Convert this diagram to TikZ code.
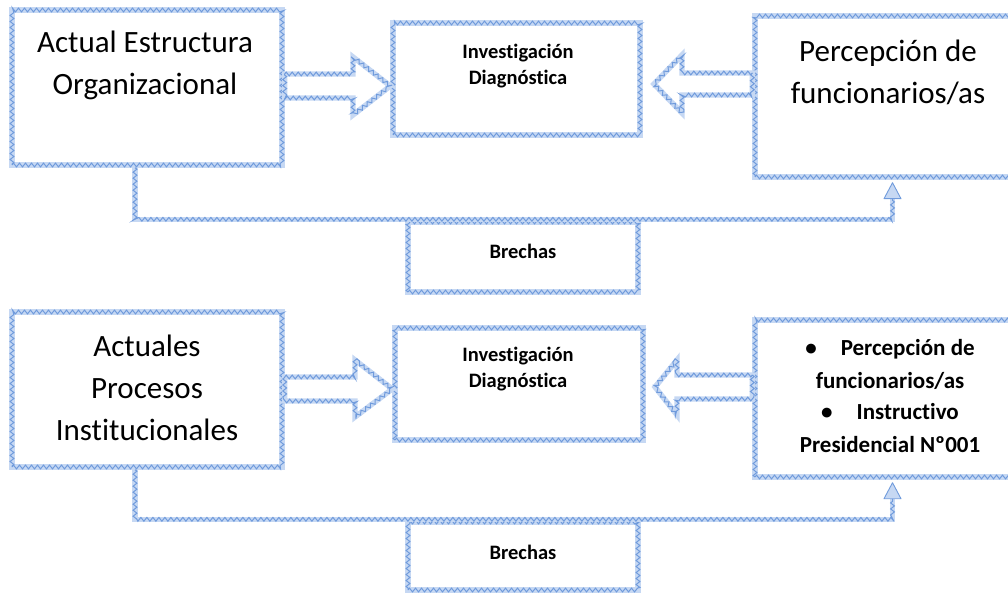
\documentclass[tikz,border=0pt]{standalone}
\usepackage{fontspec}
\setmainfont[Ligatures=NoCommon]{Carlito}
\usetikzlibrary{decorations.pathmorphing,calc}

\definecolor{bandblue}{RGB}{198,216,243}
\definecolor{zigblue}{RGB}{112,155,220}

\tikzset{
  x=1pt, y=-1pt,
  % light band with a darker zigzag running along it
  band/.style={draw=bandblue, line width=5.4pt, line join=miter,
    postaction={draw=zigblue, line width=1pt, decorate,
      decoration={zigzag, amplitude=1.9pt, segment length=6pt}}},
  box/.style={band, rectangle, fill=white, inner sep=0pt},
  blockarrow/.style={band, fill=white},
  tiphead/.style={fill=bandblue, draw=zigblue, line width=0.9pt, line join=round},
  bigtxt/.style={font=\fontsize{31}{42}\selectfont, align=center, inner sep=0pt},
  smalltxt/.style={font=\bfseries\fontsize{20.5}{26}\selectfont, align=center, inner sep=0pt},
  listtxt/.style={font=\bfseries\fontsize{23}{33}\selectfont, align=center, inner sep=0pt},
}

\begin{document}
\begin{tikzpicture}
\clip (0,0) rectangle (1008,593);
\fill[white] (0,0) rectangle (1008,593);

% ---------- upper chain ----------
\node[box, minimum width=270pt, minimum height=155pt] (A) at (147,87.5) {};
\node[box, minimum width=247pt, minimum height=112pt] (B) at (516.5,79) {};
\node[box, minimum width=275pt, minimum height=161pt] (C) at (892.5,96.5) {};
\node[box, minimum width=230pt, minimum height=70pt] (G1) at (523,257) {};

\node[bigtxt] (tA) at (145,65) {Actual Estructura\\Organizacional};
\node[smalltxt] (tB) at (518,66) {Investigación\\Diagnóstica};
\node[bigtxt] (tC) at (888,72) {Percepción de\\funcionarios/as};
\node[smalltxt] (tG1) at (523,251) {Brechas};

% hollow block arrows between the boxes
\draw[blockarrow] (A.east |- 0,74) -- (353,74) -- (353,57) -- (B.west |- 0,86)
  -- (353,115) -- (353,98) -- (A.east |- 0,98) -- cycle;
\draw[blockarrow] (C.west |- 0,73) -- (682,73) -- (682,55) -- (654,84)
  -- (682,113) -- (682,95) -- (C.west |- 0,95) -- cycle;

% return connector through the gap box
\coordinate (k1) at ($(A.south)+(-12,0)$);
\coordinate (h1) at ($(C.south)+(0,19)$);
\draw[band] (k1) -- (k1 |- G1.north) -- (h1 |- G1.north) -- (h1);
\draw[tiphead] ($(C.south)+(0,3)$) -- ($(h1)+(-8.5,0)$) -- ($(h1)+(8.5,0)$) -- cycle;

% ---------- lower chain ----------
\node[box, minimum width=270pt, minimum height=155pt] (D) at (147,389.5) {};
\node[box, minimum width=248pt, minimum height=112pt] (E) at (519,384) {};
\node[box, minimum width=275pt, minimum height=157pt] (F) at (892.5,398.5) {};
\node[box, minimum width=230pt, minimum height=68pt] (G2) at (523,556) {};

\node[bigtxt] (tD) at (147,388) {Actuales\\Procesos\\Institucionales};
\node[smalltxt] (tE) at (518,369) {Investigación\\Diagnóstica};
\node[listtxt] (tF) at (890,396) {\textbullet\hspace{24pt}Percepción de\\
  funcionarios/as\\[-2pt]
  \textbullet\hspace{24pt}Instructivo\\
  Presidencial Nº001};
\node[smalltxt] (tG2) at (523,552) {Brechas};

\draw[blockarrow] (D.east |- 0,377) -- (355,377) -- (355,360) -- (E.west |- 0,389)
  -- (355,417) -- (355,401) -- (D.east |- 0,401) -- cycle;
\draw[blockarrow] (F.west |- 0,375) -- (677,375) -- (677,360) -- (655,387)
  -- (677,415) -- (677,399) -- (F.west |- 0,399) -- cycle;

\coordinate (k2) at ($(D.south)+(-12,0)$);
\coordinate (h2) at ($(F.south)+(0,19)$);
\draw[band] (k2) -- (k2 |- G2.north) -- (h2 |- G2.north) -- (h2);
\draw[tiphead] ($(F.south)+(0,3)$) -- ($(h2)+(-8.5,0)$) -- ($(h2)+(8.5,0)$) -- cycle;
\end{tikzpicture}
\end{document}
